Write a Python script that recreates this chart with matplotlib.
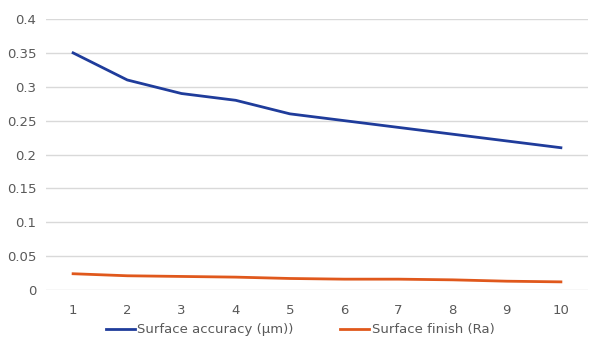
import matplotlib
matplotlib.use('Agg')
import matplotlib.pyplot as plt
import numpy as np

# data
x_labels = ['1', '2', '3', '4', '5', '6', '7', '8', '9', '10']
accuracy = [0.35, 0.31, 0.29, 0.28, 0.26, 0.25, 0.24, 0.23, 0.22, 0.21]
finish = [0.024, 0.021, 0.020, 0.019, 0.017, 0.016, 0.016, 0.015, 0.013, 0.012]
y_ticks = [0, 0.05, 0.1, 0.15, 0.2, 0.25, 0.3, 0.35, 0.4]
y_tick_labels = ['0', '0.05', '0.1', '0.15', '0.2', '0.25', '0.3', '0.35', '0.4']

fig = plt.figure(figsize=(6, 3.54), dpi=100)
ax = fig.add_axes([46/600, 64/354, 542/600, 271/354])

xs = np.arange(len(x_labels))
ax.plot(xs, accuracy, color='#1f3c9b', lw=2.0, label='Surface accuracy (\u03bcm))')
ax.plot(xs, finish, color='#e0581c', lw=2.0, label='Surface finish (Ra)')

ax.set_xlim(-0.5, len(x_labels) - 0.5)
ax.set_ylim(0, 0.4)
ax.set_xticks(xs)
ax.set_xticklabels(x_labels)
ax.set_yticks(y_ticks)
ax.set_yticklabels(y_tick_labels)
ax.grid(axis='y', color='#d9d9d9', lw=1)
ax.set_axisbelow(True)
for s in ax.spines.values():
    s.set_visible(False)
ax.tick_params(length=0, colors='#595959', labelsize=9.5)
ax.tick_params(axis='x', pad=10)
ax.tick_params(axis='y', pad=7)

fig.legend(loc='center', bbox_to_anchor=(0.5, 1 - 330/354), ncol=2, frameon=False,
           fontsize=9.5, labelcolor='#595959', handlelength=2.2, handletextpad=0.2,
           columnspacing=3.5)

fig.savefig('out.png', dpi=100)
